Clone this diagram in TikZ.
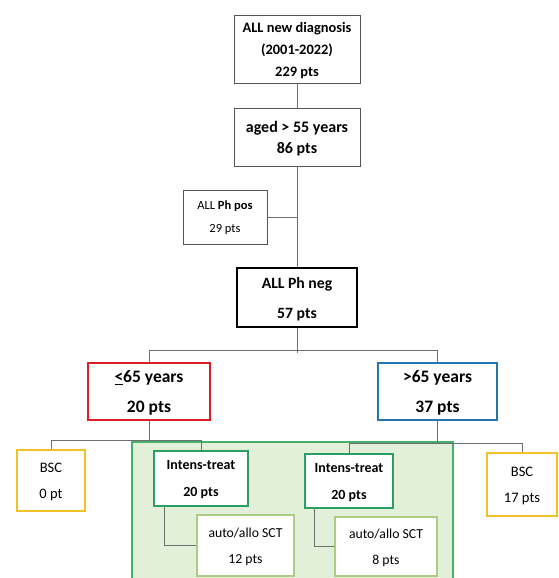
\documentclass[tikz,border=0pt]{standalone}
\usepackage{fontspec}
\setmainfont{Carlito}
\usetikzlibrary{positioning}

\definecolor{linkgray}{RGB}{110,110,110}
\definecolor{boxgray}{RGB}{85,85,85}
\definecolor{youngred}{RGB}{218,32,38}
\definecolor{oldblue}{RGB}{39,116,178}
\definecolor{bscyellow}{RGB}{242,192,40}
\definecolor{intgreen}{RGB}{40,160,100}
\definecolor{sctgreen}{RGB}{170,205,130}
\definecolor{bgfill}{RGB}{226,240,217}
\definecolor{bgline}{RGB}{70,175,110}

\begin{document}
\begin{tikzpicture}[x=1pt, y=-1pt,
    box/.style={draw, fill=white, align=center, inner sep=0pt, text depth=0pt},
    graybox/.style={box, draw=boxgray, line width=0.8pt},
    negbox/.style={box, draw=black, line width=1.8pt},
    youngbox/.style={box, draw=youngred, line width=2.6pt},
    oldbox/.style={box, draw=oldblue, line width=2.6pt},
    bscbox/.style={box, draw=bscyellow, line width=2.6pt},
    intbox/.style={box, draw=intgreen, line width=2pt},
    sctbox/.style={box, draw=sctgreen, line width=1.5pt},
    link/.style={draw=linkgray, line width=1pt}
]
    \useasboundingbox (0,0) rectangle (558,578);

    % green area behind the intensive treatment arms
    \fill[bgfill] (132,442) rectangle (453,578);
    \draw[bgline, line width=1.5pt] (132,578) |- (453,442) -- (453,578);

    % upper part
    \node[graybox, minimum width=126, minimum height=68,
          font=\bfseries\fontsize{14.4}{22}\selectfont] (diag) at (297,49)
          {ALL new diagnosis\\(2001-2022)\\229 pts};
    \node[graybox, minimum width=126, minimum height=58,
          font=\bfseries\fontsize{16}{21}\selectfont] (aged) at (297,137)
          {aged > 55 years\\86 pts};
    \node[graybox, minimum width=84, minimum height=54,
          font=\fontsize{12.5}{23}\selectfont] (phpos) at (225,217)
          {ALL \textbf{Ph pos}\\29 pts};
    \node[negbox, minimum width=120, minimum height=59,
          font=\bfseries\fontsize{15.7}{30}\selectfont] (phneg) at (297,297.5)
          {ALL Ph neg\\57 pts};

    % age groups
    \node[youngbox, minimum width=122, minimum height=57,
          font=\bfseries\fontsize{17.5}{30}\selectfont] (young) at (149,391.5)
          {\underline{<}65 years\\20 pts};
    \node[oldbox, minimum width=119, minimum height=57,
          font=\bfseries\fontsize{17.5}{30}\selectfont] (old) at (437.5,391.5)
          {>65 years\\37 pts};

    % treatment
    \node[bscbox, minimum width=68, minimum height=61,
          font=\fontsize{14.5}{26}\selectfont] (bscL) at (51,480.5)
          {BSC\\0 pt};
    \node[intbox, minimum width=94, minimum height=55,
          font=\bfseries\fontsize{14}{27}\selectfont] (intL) at (201,478.5)
          {Intens-treat\\20 pts};
    \node[sctbox, minimum width=97, minimum height=61,
          font=\fontsize{13.7}{26}\selectfont] (sctL) at (245.5,545.5)
          {auto/allo SCT\\12 pts};
    \node[intbox, minimum width=88, minimum height=54,
          font=\bfseries\fontsize{14}{27}\selectfont] (intR) at (349,481)
          {Intens-treat\\20 pts};
    \node[sctbox, minimum width=102, minimum height=59,
          font=\fontsize{13.7}{26}\selectfont] (sctR) at (386,546.5)
          {auto/allo SCT\\8 pts};
    \node[bscbox, minimum width=70, minimum height=63,
          font=\fontsize{14.5}{26}\selectfont] (bscR) at (522,484.5)
          {BSC\\17 pts};

    % connectors
    \coordinate (ysplit) at (149,440);
    \coordinate (osplit) at (437.5,443);
    \draw[link] (diag) -- (aged);
    \draw[link] (aged) -- (phneg);
    \draw[link] (phpos.east) -- (phpos.east -| aged.south);
    \draw[link] (phneg.south) -- ++(0,25);
    \draw[link] (young.north) -- ++(0,-11) -| (old.north);
    \draw[link] (young.south) -- (ysplit);
    \draw[link] (bscL.north) -- (bscL.north |- ysplit) -| (intL.north);
    \draw[link] (old.south) -- (osplit);
    \draw[link] (intR.north) -- (intR.north |- osplit) -| (bscR.north);
    \draw[link] ([xshift=-37]intL.south) |- (sctL.west);
    \draw[link] ([xshift=-35]intR.south) |- (sctR.west);
\end{tikzpicture}
\end{document}
